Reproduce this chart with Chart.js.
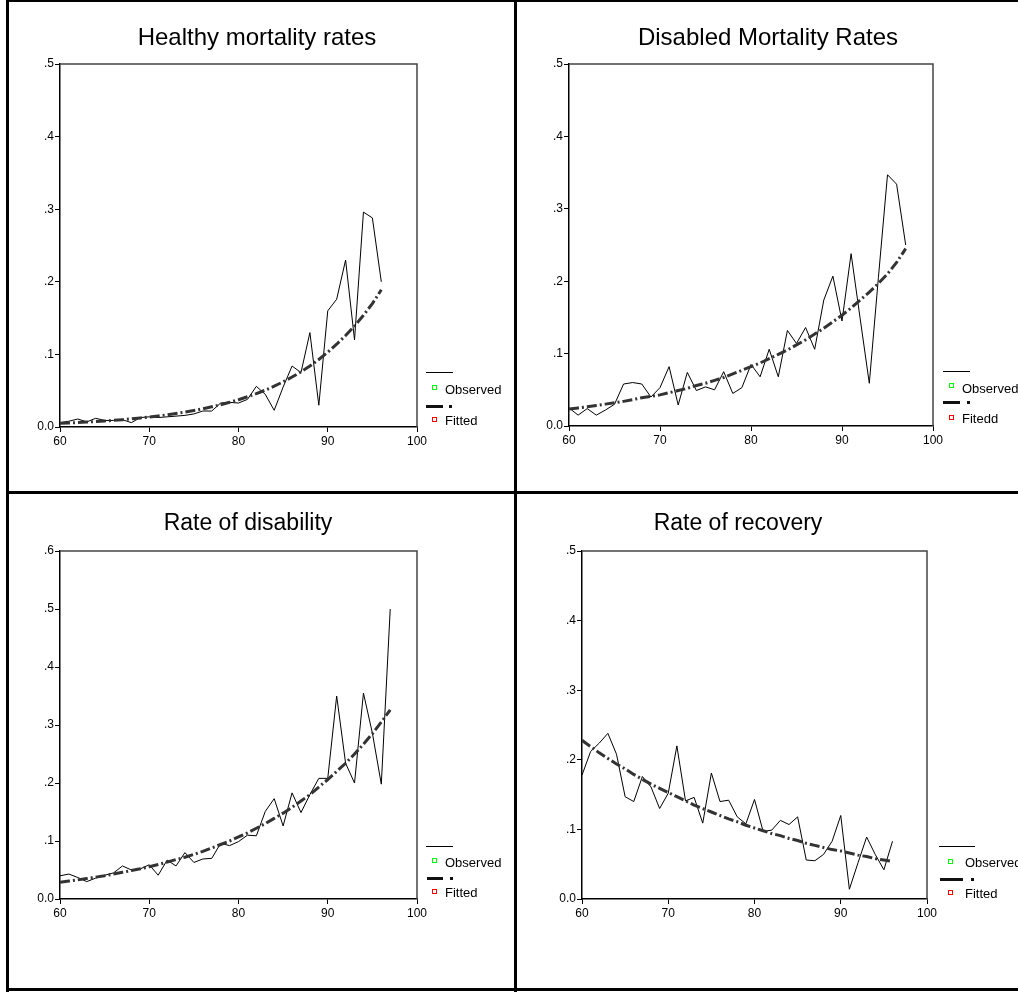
<!DOCTYPE html>
<html>
<head>
<meta charset="utf-8">
<script src="https://cdn.jsdelivr.net/npm/chart.js@4.4.1/dist/chart.umd.min.js"></script>
<style>
  html, body { margin:0; padding:0; background:#fff; }
  body { width:1018px; height:994px; position:relative; overflow:hidden; font-family:"Liberation Sans", Arial, sans-serif; }
  canvas { position:absolute; }
  .title { position:absolute; text-align:center; color:#000; white-space:nowrap; }
  .lt { position:absolute; font-size:13px; line-height:13px; color:#000; white-space:nowrap; }
  .bar { position:absolute; background:#000; }
  .sq { position:absolute; width:3px; height:3px; background:#fff; }
</style>
</head>
<body>
<script>
// ---------- DATA ----------
const agesHealthy = [60,61,62,63,64,65,66,67,68,69,70,71,72,73,74,75,76,77,78,79,80,81,82,83,84,85,86,87,88,89,90,91,92,93,94,95,96];
const healthyObserved = [0.006,0.008,0.011,0.007,0.012,0.009,0.009,0.010,0.006,0.013,0.014,0.013,0.014,0.015,0.016,0.018,0.022,0.022,0.033,0.034,0.033,0.038,0.056,0.045,0.023,0.055,0.084,0.075,0.130,0.030,0.160,0.176,0.230,0.120,0.296,0.288,0.200];
const healthyFitted = [0.005,0.0055,0.0061,0.0068,0.0075,0.0083,0.0092,0.0101,0.0112,0.0124,0.0137,0.0152,0.0168,0.0186,0.0205,0.0227,0.0251,0.0278,0.0307,0.034,0.0376,0.0416,0.046,0.0508,0.0562,0.0622,0.0688,0.076,0.084,0.093,0.103,0.114,0.126,0.139,0.154,0.170,0.189];

const agesDisabled = [60,61,62,63,64,65,66,67,68,69,70,71,72,73,74,75,76,77,78,79,80,81,82,83,84,85,86,87,88,89,90,91,92,93,94,95,96,97];
const disabledObserved = [0.025,0.015,0.024,0.015,0.022,0.030,0.058,0.060,0.058,0.040,0.053,0.082,0.029,0.074,0.049,0.054,0.050,0.075,0.045,0.053,0.085,0.068,0.106,0.068,0.132,0.114,0.136,0.106,0.174,0.207,0.145,0.238,0.148,0.059,0.205,0.347,0.334,0.250];
const disabledFitted = [0.0235,0.025,0.0266,0.0284,0.0302,0.032,0.034,0.0365,0.039,0.041,0.043,0.046,0.049,0.052,0.056,0.059,0.063,0.067,0.072,0.077,0.082,0.087,0.093,0.099,0.105,0.112,0.119,0.127,0.135,0.144,0.153,0.163,0.174,0.185,0.197,0.210,0.226,0.245];

const agesDisability = [60,61,62,63,64,65,66,67,68,69,70,71,72,73,74,75,76,77,78,79,80,81,82,83,84,85,86,87,88,89,90,91,92,93,94,95,96,97];
const disabilityObserved = [0.040,0.043,0.037,0.030,0.036,0.041,0.045,0.057,0.050,0.052,0.059,0.041,0.067,0.057,0.080,0.063,0.069,0.070,0.096,0.092,0.099,0.110,0.109,0.151,0.173,0.126,0.183,0.149,0.180,0.208,0.208,0.350,0.234,0.200,0.355,0.286,0.198,0.500];
const disabilityFitted = [0.029,0.031,0.033,0.0353,0.0377,0.040,0.043,0.046,0.049,0.052,0.0557,0.0595,0.0635,0.068,0.072,0.077,0.082,0.088,0.094,0.100,0.107,0.114,0.122,0.130,0.139,0.148,0.158,0.169,0.180,0.193,0.206,0.220,0.234,0.250,0.267,0.285,0.305,0.326];

const agesRecovery = [60,61,62,63,64,65,66,67,68,69,70,71,72,73,74,75,76,77,78,79,80,81,82,83,84,85,86,87,88,89,90,91,92,93,94,95,96];
const recoveryObserved = [0.178,0.212,0.224,0.238,0.208,0.147,0.140,0.176,0.161,0.130,0.152,0.220,0.141,0.146,0.109,0.181,0.140,0.142,0.118,0.108,0.143,0.097,0.099,0.113,0.107,0.118,0.056,0.055,0.064,0.083,0.120,0.014,0.052,0.089,0.064,0.042,0.083];
const recoveryFitted = [0.228,0.219,0.210,0.202,0.194,0.187,0.179,0.172,0.165,0.159,0.153,0.147,0.141,0.135,0.130,0.125,0.120,0.115,0.111,0.106,0.102,0.098,0.094,0.091,0.087,0.084,0.080,0.077,0.074,0.071,0.069,0.066,0.063,0.061,0.058,0.056,0.054];

const xTicks = [60,70,80,90,100];
const titles = ["Healthy mortality rates","Disabled Mortality Rates","Rate of disability","Rate of recovery"];
const legendObserved = "Observed";
const legendFitted = ["Fitted","Fitedd","Fitted","Fitted"];

// ---------- LAYOUT ----------
const panels = [
  {ages:agesHealthy, obs:healthyObserved, fit:healthyFitted, ymax:0.5,
   cv:{l:0,t:0,w:516,h:492}, pad:{left:20,right:99,top:64,bottom:40},
   title:{l:0,w:514,top:24.5,fs:24},
   leg:{lineX:426,lineW:27,lineY:371.5,sqX:432,sq1Y:385,txtX:445,txt1B:394,dashX:426,dashW:17,dotX:449,dashY:404.5,sq2Y:417,txt2B:425}},
  {ages:agesDisabled, obs:disabledObserved, fit:disabledFitted, ymax:0.5,
   cv:{l:516,t:0,w:502,h:492}, pad:{left:13,right:85,top:64,bottom:41},
   title:{l:516,w:504,top:24.5,fs:24},
   leg:{lineX:943,lineW:27,lineY:370.5,sqX:949,sq1Y:383,txtX:962,txt1B:393,dashX:943,dashW:17,dotX:967,dashY:400.5,sq2Y:415,txt2B:423}},
  {ages:agesDisability, obs:disabilityObserved, fit:disabilityFitted, ymax:0.6,
   cv:{l:0,t:492,w:516,h:502}, pad:{left:20,right:99,top:59,bottom:70},
   title:{l:0,w:496,top:510.5,fs:23},
   leg:{lineX:426,lineW:27,lineY:845.5,sqX:432,sq1Y:858,txtX:445,txt1B:867,dashX:427,dashW:16,dotX:450,dashY:876.5,sq2Y:889,txt2B:897}},
  {ages:agesRecovery, obs:recoveryObserved, fit:recoveryFitted, ymax:0.5,
   cv:{l:516,t:492,w:502,h:502}, pad:{left:26,right:91,top:59,bottom:70},
   title:{l:516,w:444,top:510.5,fs:23},
   leg:{lineX:939,lineW:36,lineY:846,sqX:948,sq1Y:859,txtX:965,txt1B:867,dashX:940,dashW:23,dotX:971,dashY:877.5,sq2Y:890,txt2B:898}}
];

function el(cls, css, text) {
  const d = document.createElement('div');
  d.className = cls;
  Object.assign(d.style, css);
  if (text !== undefined) d.textContent = text;
  document.body.appendChild(d);
  return d;
}

const boxPlugin = {
  id:'plotBox',
  afterDraw(chart) {
    const a = chart.chartArea, ctx = chart.ctx;
    ctx.save();
    ctx.strokeStyle = '#444';
    ctx.lineWidth = 1.5;
    ctx.beginPath();
    ctx.moveTo(a.left, a.top); ctx.lineTo(a.right, a.top); ctx.lineTo(a.right, a.bottom);
    ctx.stroke();
    ctx.restore();
  }
};

panels.forEach((p, i) => {
  const c = document.createElement('canvas');
  c.width = p.cv.w; c.height = p.cv.h;
  Object.assign(c.style, {left:p.cv.l+'px', top:p.cv.t+'px', width:p.cv.w+'px', height:p.cv.h+'px'});
  document.body.appendChild(c);

  const obsPts = p.ages.map((a, k) => ({x:a, y:p.obs[k]}));
  const fitPts = p.ages.map((a, k) => ({x:a, y:p.fit[k]}));

  new Chart(c.getContext('2d'), {
    type:'line',
    data:{datasets:[
      {label:'Fitted', data:fitPts, borderColor:'#333', borderWidth:3, borderDash:[10,3,2,3], pointRadius:0, tension:0, fill:false},
      {label:'Observed', data:obsPts, borderColor:'#000', borderWidth:1, pointRadius:0, tension:0, fill:false}
    ]},
    options:{
      responsive:false, animation:false, devicePixelRatio:1,
      layout:{padding:p.pad},
      plugins:{legend:{display:false}, title:{display:false}, tooltip:{enabled:false}},
      scales:{
        x:{type:'linear', min:60, max:100,
           afterBuildTicks: s => { s.ticks = xTicks.map(v => ({value:v})); },
           afterFit: s => { s.height = 25; },
           ticks:{color:'#000', font:{family:'"Liberation Sans", Arial', size:12}, padding:2, maxRotation:0, autoSkip:false},
           grid:{drawOnChartArea:false, drawTicks:true, tickLength:5, color:'#000', lineWidth:1},
           border:{display:true, color:'#000', width:1.5}},
        y:{type:'linear', min:0, max:p.ymax,
           ticks:{stepSize:0.1, color:'#000', font:{family:'"Liberation Sans", Arial', size:12}, padding:1,
                  callback: v => { const r = Math.round(v*10)/10; return r === 0 ? '0.0' : ('.' + Math.round(r*10)); }},
           afterFit: s => { s.width = 40; },
           grid:{drawOnChartArea:false, drawTicks:true, tickLength:5, color:'#000', lineWidth:1},
           border:{display:true, color:'#000', width:1.5}}
      }
    },
    plugins:[boxPlugin]
  });

  // title
  el('title', {left:p.title.l+'px', top:p.title.top+'px', width:p.title.w+'px', fontSize:p.title.fs+'px', lineHeight:p.title.fs+'px'}, titles[i]);

  // legend
  const L = p.leg;
  el('bar', {left:L.lineX+'px', top:L.lineY+'px', width:L.lineW+'px', height:'1px'});
  el('sq', {left:L.sqX+'px', top:L.sq1Y+'px', border:'1px solid #00ff00'});
  el('lt', {left:L.txtX+'px', top:(L.txt1B-11)+'px'}, legendObserved);
  el('bar', {left:L.dashX+'px', top:L.dashY+'px', width:L.dashW+'px', height:'3px', background:'#111'});
  el('bar', {left:L.dotX+'px', top:L.dashY+'px', width:'3px', height:'3px', background:'#111'});
  el('sq', {left:L.sqX+'px', top:L.sq2Y+'px', border:'1px solid #ff0000'});
  el('lt', {left:L.txtX+'px', top:(L.txt2B-11)+'px'}, legendFitted[i]);
});

// outer frame
el('bar', {left:'6px', top:'0px', width:'3px', height:'992px'});
el('bar', {left:'6px', top:'0px', width:'1012px', height:'2px'});
el('bar', {left:'514px', top:'0px', width:'3px', height:'992px'});
el('bar', {left:'6px', top:'491px', width:'1012px', height:'2.5px'});
el('bar', {left:'6px', top:'988px', width:'1012px', height:'3px'});
</script>
</body>
</html>
